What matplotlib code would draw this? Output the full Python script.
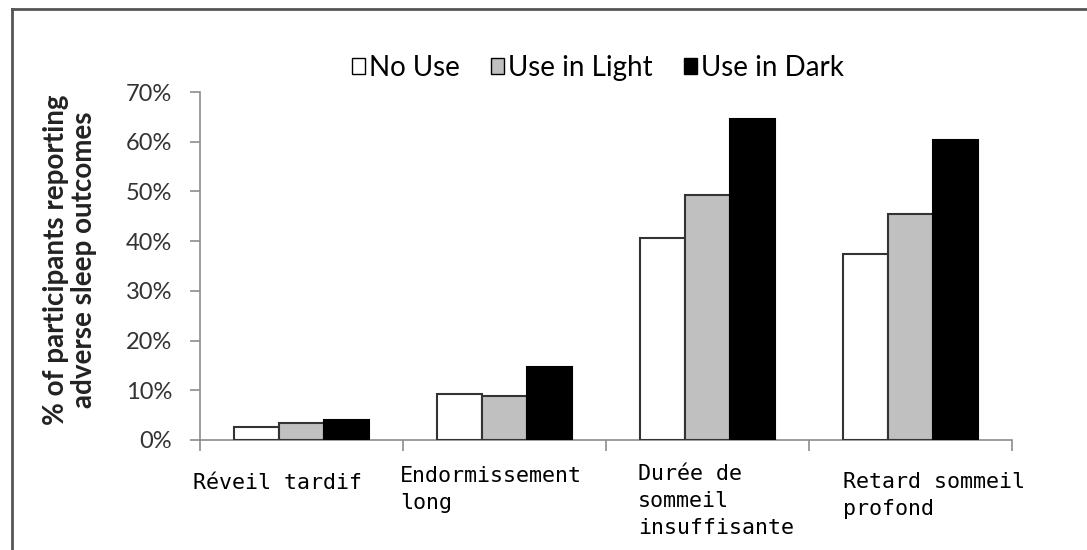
import numpy as np
import matplotlib.pyplot as plt
from matplotlib.patches import Patch
from matplotlib.lines import Line2D
from matplotlib.ticker import PercentFormatter

# Sleep outcomes by screen use
categories = ["Réveil tardif", "Endormissement\nlong",
              "Durée de\nsommeil\ninsuffisante", "Retard sommeil\nprofond"]
series_names = ["No Use", "Use in Light", "Use in Dark"]
no_use = [2.6, 9.2, 40.7, 37.4]
use_light = [3.5, 8.9, 49.3, 45.4]
use_dark = [4.1, 14.6, 64.6, 60.4]

colors = ["white", "#c0c0c0", "black"]
edges = ["#333333", "#333333", "black"]

W, H = 1087, 550
fig = plt.figure(figsize=(W / 100, H / 100), dpi=100)
ax = fig.add_axes([0.184, 0.2, 0.747, 0.6327])

x = np.arange(len(categories))
w = 0.222
for i, (vals, c, ec) in enumerate(zip([no_use, use_light, use_dark], colors, edges)):
    ax.bar(x + (i - 1) * w, np.array(vals) / 100, w, color=c, edgecolor=ec,
           linewidth=1.5, zorder=3)

ax.set_xlim(-0.5, len(categories) - 0.5)
ax.set_ylim(0, 0.7)
ax.set_yticks(np.arange(0, 0.71, 0.1))
ax.yaxis.set_major_formatter(PercentFormatter(1.0, decimals=0))

axis_grey = "#8c8c8c"
for s in ["top", "right"]:
    ax.spines[s].set_visible(False)
for s in ["left", "bottom"]:
    ax.spines[s].set_color(axis_grey)
    ax.spines[s].set_linewidth(1.2)

ax.tick_params(axis="y", length=7, width=1.2, color=axis_grey, pad=13,
               labelsize=17, labelcolor="#333333")
for lab in ax.get_yticklabels():
    lab.set_family("Lato")

# category boundaries as ticks, labels placed as free text below
ax.set_xticks(np.arange(-0.5, len(categories), 1.0))
ax.set_xticklabels([])
ax.tick_params(axis="x", length=8, width=1.2, color=axis_grey)

# pixel position of each label: left edge, baseline of its last line
label_pos = [(193, 489), (400, 509), (638, 534), (843, 515)]
for name, (px, py) in zip(categories, label_pos):
    fig.text(px / W, 1 - py / H, name, ha="left", va="baseline",
             family="DejaVu Sans Mono", fontsize=15.6, linespacing=1.45)

fig.text(70 / W, 1 - 260 / H, "% of participants reporting\nadverse sleep outcomes",
         rotation=90, ha="center", va="center", fontsize=20, fontweight="bold",
         family="Lato", color="#222222", linespacing=1.1)

handles = [Patch(facecolor=c, edgecolor="black", linewidth=1) for c in colors]
fig.legend(handles, series_names, loc="center", bbox_to_anchor=(598 / W, 1 - 68 / H),
           ncol=3, frameon=False, handlelength=0.47, handleheight=0.47,
           handletextpad=0.12, columnspacing=1.15,
           prop={"family": "Lato", "size": 20})

# outer frame
fig.add_artist(Line2D([12 / W, 12 / W], [0, 1 - 9 / H],
                      transform=fig.transFigure, color="#555555", lw=2))
fig.add_artist(Line2D([12 / W, 1], [1 - 9 / H, 1 - 9 / H],
                      transform=fig.transFigure, color="#555555", lw=2))

fig.savefig("out.png", dpi=100)
